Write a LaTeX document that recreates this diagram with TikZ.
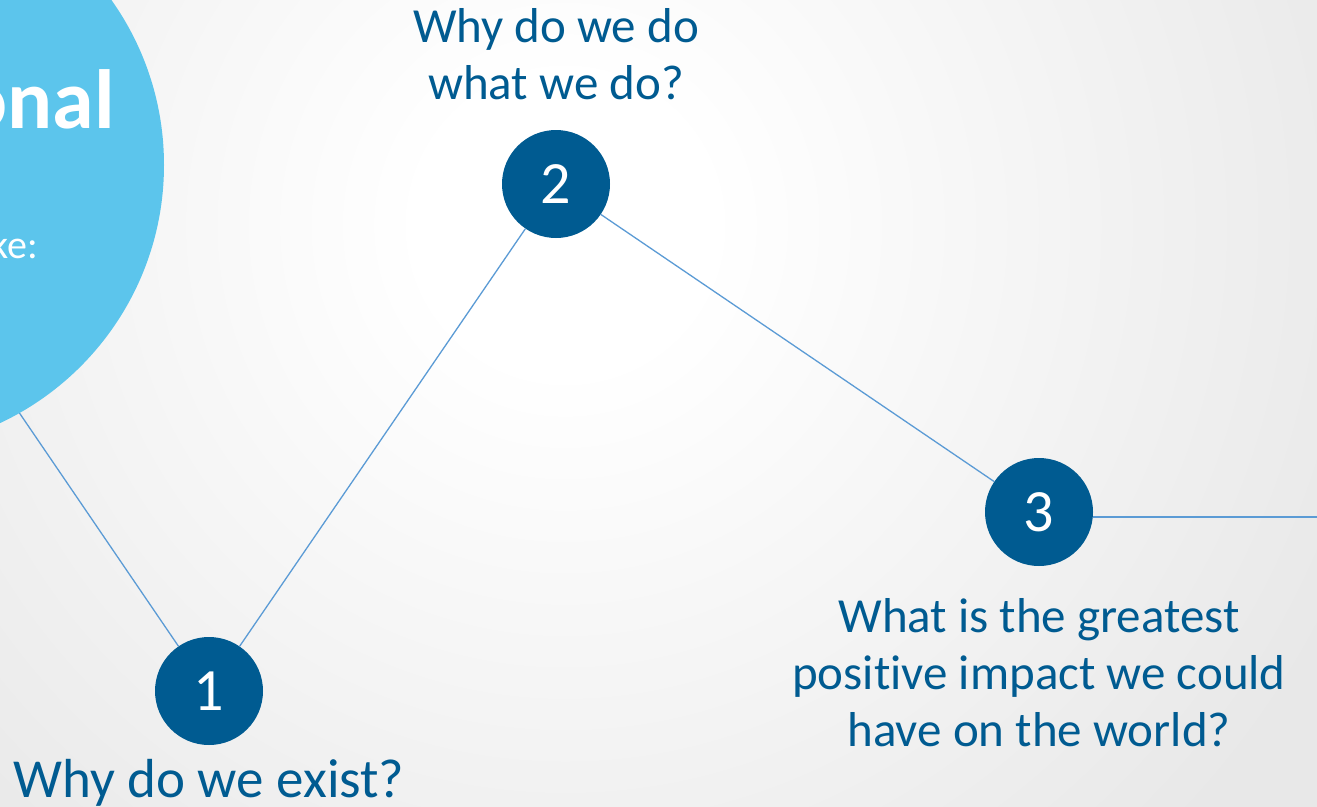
\documentclass[tikz,border=0pt]{standalone}
\usepackage{fontspec}
\setmainfont{Carlito}[Ligatures={NoCommon}]
\usepackage{tikz}
\usetikzlibrary{positioning}
\usepackage{xcolor}
\definecolor{DeepBlue}{RGB}{0, 91, 145}
\definecolor{SkyBlue}{RGB}{92, 197, 236}
\definecolor{LinkBlue}{RGB}{91, 155, 213}
\definecolor{PaleGrey}{RGB}{232, 232, 232}
\pgfdeclareradialshading{glow}{\pgfpoint{0bp}{0bp}}{%
  color(0bp)=(white); color(3.5bp)=(white);
  color(21bp)=(PaleGrey); color(50bp)=(PaleGrey)}
\tikzset{%
  stepnode/.style={%
    circle,
    minimum size=108pt,
    inner sep=0pt,
    fill=DeepBlue,
    text=white,
    font={\fontsize{60}{60}\selectfont}%
  },
  question/.style={%
    inner sep=0pt,
    align=center,
    text=DeepBlue,
    font={\fontsize{49}{57}\selectfont}%
  },
  purpose/.style={%
    circle,
    minimum size=570pt,
    inner sep=0pt,
    fill=SkyBlue
  },
  link/.style={%
    color=LinkBlue,
    line width=1.3pt
  }
}

\begin{document}
\begin{tikzpicture}[x=1pt, y=-1pt]
    \useasboundingbox (0, 0) rectangle (1317, 806);
    \begin{scope}
      \clip (0, 0) rectangle (1317, 806);
      \shade [shading=glow] (565, 225) circle (1030);
    \end{scope}

    \coordinate (Hub) at (-121, 207);
    \coordinate (Beyond) at (1330, 517);
    \node [stepnode] (One) at (209, 691) {1};
    \node [stepnode] (Two) at (556, 184) {2};
    \node [stepnode] (Three) at (1039, 512) {3};

    \draw [link] (Hub) -- (One);
    \draw [link] (One) -- (Two);
    \draw [link] (Two) -- (Three);
    \draw [link] (Three.east |- Beyond) -- (Beyond);

    \node [purpose] (Purpose) at (-121, 165) {};
    \node [anchor=base east, inner sep=0pt, text=white,
      font={\fontsize{84}{84}\selectfont\bfseries}] (PurposeTitle)
      at (115, 128) {onal};
    \node [anchor=base east, inner sep=0pt, text=white,
      font={\fontsize{40}{40}\selectfont}] (PurposeText)
      at (38, 258) {ke:};

    \node [question, font={\fontsize{55}{66}\selectfont},
      below=14pt of One] (Exist) {Why do we exist?};
    \node [question, above=30pt of Two] (WhatWeDo)
      {Why do we do\\what we do?};
    \node [question, below=32pt of Three] (Impact)
      {What is the greatest\\positive impact we could\\have on the world?};
\end{tikzpicture}
\end{document}
